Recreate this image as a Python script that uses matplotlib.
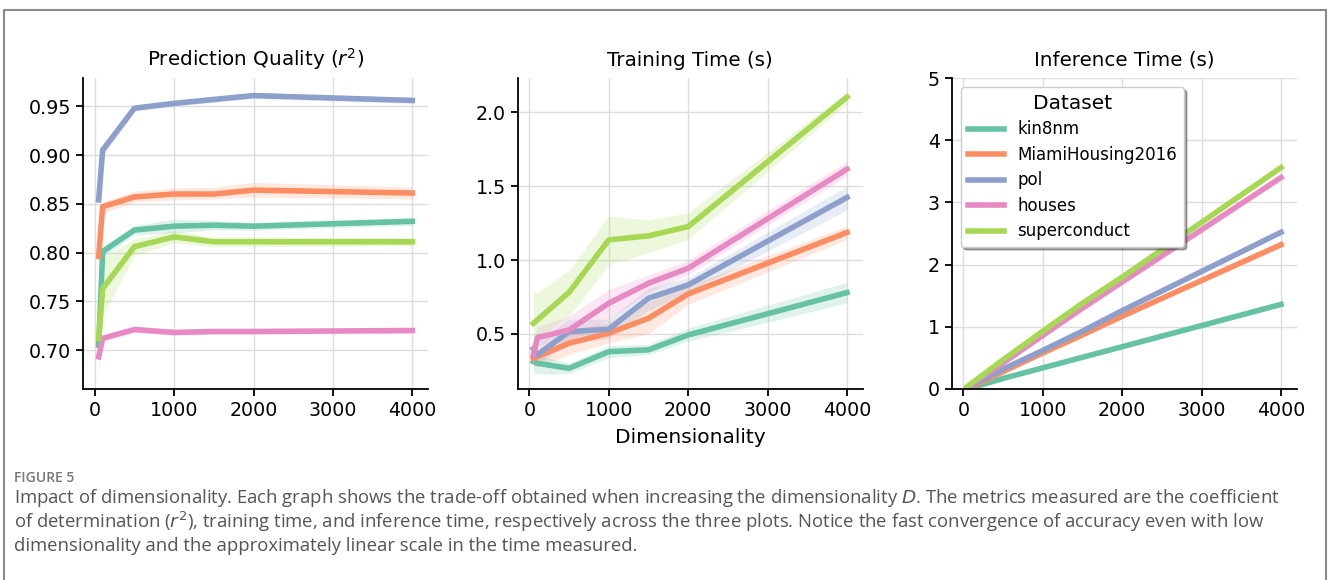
import numpy as np
import matplotlib.pyplot as plt
from matplotlib.patches import Rectangle

# dimensionality values on the x axis
dims = [50, 100, 500, 1000, 1500, 2000, 4000]
datasets = ["kin8nm", "MiamiHousing2016", "pol", "houses", "superconduct"]
colors = ["#66c2a5", "#fc8d62", "#8da0cb", "#e78ac3", "#a6d854"]

# prediction quality (r^2): mean, low, high
r2_kin8nm = [0.705, 0.801, 0.823, 0.827, 0.828, 0.827, 0.832]
r2_kin8nm_lo = [0.700, 0.795, 0.818, 0.820, 0.823, 0.823, 0.828]
r2_kin8nm_hi = [0.710, 0.806, 0.828, 0.834, 0.833, 0.831, 0.836]
r2_miami = [0.796, 0.847, 0.857, 0.860, 0.860, 0.864, 0.861]
r2_miami_lo = [0.791, 0.840, 0.852, 0.854, 0.855, 0.857, 0.855]
r2_miami_hi = [0.801, 0.852, 0.863, 0.866, 0.867, 0.872, 0.867]
r2_pol = [0.854, 0.905, 0.948, 0.953, 0.957, 0.961, 0.956]
r2_pol_lo = [0.851, 0.899, 0.945, 0.950, 0.954, 0.958, 0.953]
r2_pol_hi = [0.858, 0.911, 0.951, 0.956, 0.960, 0.964, 0.959]
r2_houses = [0.693, 0.712, 0.721, 0.718, 0.719, 0.719, 0.720]
r2_houses_lo = [0.688, 0.709, 0.718, 0.715, 0.716, 0.716, 0.717]
r2_houses_hi = [0.698, 0.715, 0.724, 0.721, 0.722, 0.722, 0.723]
r2_super = [0.712, 0.763, 0.806, 0.816, 0.811, 0.811, 0.811]
r2_super_lo = [0.675, 0.735, 0.797, 0.810, 0.806, 0.806, 0.807]
r2_super_hi = [0.745, 0.795, 0.814, 0.822, 0.816, 0.816, 0.815]

# training time (s)
tr_kin8nm = [0.313, 0.301, 0.267, 0.380, 0.392, 0.493, 0.780]
tr_kin8nm_lo = [0.23, 0.23, 0.23, 0.34, 0.36, 0.45, 0.71]
tr_kin8nm_hi = [0.38, 0.36, 0.30, 0.42, 0.43, 0.54, 0.85]
tr_miami = [0.335, 0.346, 0.437, 0.505, 0.606, 0.771, 1.187]
tr_miami_lo = [0.28, 0.28, 0.36, 0.44, 0.50, 0.70, 1.14]
tr_miami_hi = [0.38, 0.40, 0.52, 0.58, 0.72, 0.83, 1.23]
tr_pol = [0.400, 0.358, 0.516, 0.532, 0.742, 0.832, 1.424]
tr_pol_lo = [0.33, 0.30, 0.43, 0.47, 0.66, 0.78, 1.34]
tr_pol_hi = [0.45, 0.45, 0.60, 0.60, 0.81, 0.88, 1.50]
tr_houses = [0.358, 0.475, 0.527, 0.708, 0.843, 0.945, 1.616]
tr_houses_lo = [0.28, 0.42, 0.45, 0.60, 0.78, 0.90, 1.57]
tr_houses_hi = [0.45, 0.55, 0.62, 0.80, 0.90, 1.00, 1.67]
tr_super = [0.572, 0.595, 0.782, 1.137, 1.164, 1.227, 2.104]
tr_super_lo = [0.45, 0.47, 0.62, 0.97, 1.05, 1.14, 2.06]
tr_super_hi = [0.78, 0.78, 0.93, 1.30, 1.27, 1.32, 2.14]

# inference time (s)
inf_kin8nm = [0.01, 0.02, 0.17, 0.34, 0.51, 0.68, 1.36]
inf_miami = [0.01, 0.03, 0.28, 0.58, 0.87, 1.17, 2.32]
inf_pol = [0.02, 0.05, 0.32, 0.62, 0.93, 1.26, 2.52]
inf_houses = [0.03, 0.07, 0.42, 0.86, 1.30, 1.72, 3.40]
inf_super = [0.04, 0.09, 0.47, 0.93, 1.38, 1.80, 3.56]

r2 = [(r2_kin8nm, r2_kin8nm_lo, r2_kin8nm_hi), (r2_miami, r2_miami_lo, r2_miami_hi),
      (r2_pol, r2_pol_lo, r2_pol_hi), (r2_houses, r2_houses_lo, r2_houses_hi),
      (r2_super, r2_super_lo, r2_super_hi)]
train = [(tr_kin8nm, tr_kin8nm_lo, tr_kin8nm_hi), (tr_miami, tr_miami_lo, tr_miami_hi),
         (tr_pol, tr_pol_lo, tr_pol_hi), (tr_houses, tr_houses_lo, tr_houses_hi),
         (tr_super, tr_super_lo, tr_super_hi)]
infer = [inf_kin8nm, inf_miami, inf_pol, inf_houses, inf_super]

plt.rcParams['font.family'] = 'DejaVu Sans'
fig = plt.figure(figsize=(13.28, 5.8), dpi=100)

# border box around figure + caption
fig.patches.append(Rectangle((4 / 1328, -0.02), 1322 / 1328, 1.02 - 10 / 580,
                             transform=fig.transFigure, fill=False,
                             edgecolor='#8a8a8a', lw=1.5))

bottom, height, width = 1 - 389 / 580, 311 / 580, 345 / 1328
lefts = [83 / 1328, 517.7 / 1328, 951.7 / 1328]
axes = [fig.add_axes([l, bottom, width, height]) for l in lefts]

for ax in axes:
    ax.grid(True, color='#dddddd', lw=1)
    ax.set_axisbelow(True)
    ax.spines['top'].set_visible(False)
    ax.spines['right'].set_visible(False)
    for s in ['left', 'bottom']:
        ax.spines[s].set_linewidth(1.3)
    ax.tick_params(labelsize=13.7, width=1.3, length=5)
    ax.set_xticks([0, 1000, 2000, 3000, 4000])

ax = axes[0]
for (m, lo, hi), c in zip(r2, colors):
    ax.fill_between(dims, lo, hi, color=c, alpha=0.2, lw=0)
    ax.plot(dims, m, color=c, lw=4)
ax.set_ylim(0.66, 0.979)
ax.set_yticks([0.70, 0.75, 0.80, 0.85, 0.90, 0.95])
ax.set_title('Prediction Quality ($r^2$)', fontsize=14.3, pad=9)

ax = axes[1]
for (m, lo, hi), c in zip(train, colors):
    ax.fill_between(dims, lo, hi, color=c, alpha=0.2, lw=0)
    ax.plot(dims, m, color=c, lw=4)
ax.set_ylim(0.127, 2.233)
ax.set_yticks([0.5, 1.0, 1.5, 2.0])
ax.set_title('Training Time (s)', fontsize=14.3, pad=9)
ax.set_xlabel('Dimensionality', fontsize=14.5, labelpad=6)

ax = axes[2]
for m, c, name in zip(infer, colors, datasets):
    ax.plot(dims, m, color=c, lw=4, label=name)
ax.set_ylim(0, 5)
ax.set_yticks([0, 1, 2, 3, 4, 5])
ax.set_title('Inference Time (s)', fontsize=14.3, pad=9)
leg = ax.legend(title='Dataset', loc='upper left', fontsize=12, title_fontsize=14.5,
                shadow=True, bbox_to_anchor=(0.0, 1.0), handlelength=2.2,
                labelspacing=0.45, borderaxespad=0.55)

# caption
fig.text(14 / 1328, 1 - 478 / 580, 'FIGURE 5', fontsize=10, color='#777777',
         family='Open Sans', weight='semibold', va='center')
caption = [
    'Impact of dimensionality. Each graph shows the trade-off obtained when increasing the dimensionality $\\mathit{D}$. The metrics measured are the coefficient',
    'of determination ($\\mathit{r}^2$), training time, and inference time, respectively across the three plots. Notice the fast convergence of accuracy even with low',
    'dimensionality and the approximately linear scale in the time measured.',
]
for i, line in enumerate(caption):
    fig.text(14 / 1328, 1 - (498 + 24 * i) / 580, line, fontsize=13.3,
             color='#555555', family='Open Sans', va='center')

fig.savefig('out.png', dpi=100)
